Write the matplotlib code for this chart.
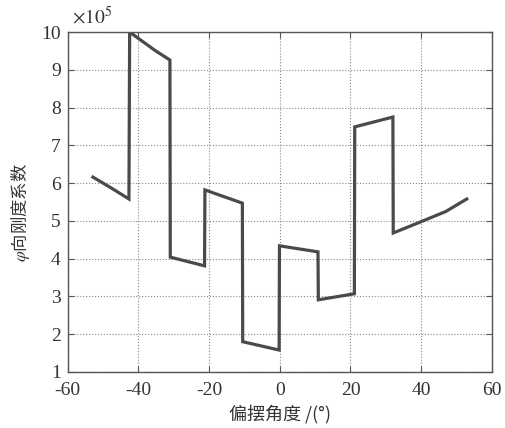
import matplotlib
matplotlib.use('Agg')
import numpy as np
from matplotlib import pyplot as plt

# swing angle (deg) and phi-direction stiffness coefficient (x 10^5)
angle = [-52.9, -47.5, -42.7, -42.5, -35.4, -31.1, -31.0, -21.3, -21.2,
         -10.6, -10.5, -0.2, -0.1, 10.8, 10.9, 21.1, 21.2, 32.0, 32.1,
         40.0, 47.0, 52.9]
stiffness = [6.16, 5.86, 5.58, 10.0, 9.52, 9.26, 4.04, 3.81, 5.82,
             5.47, 1.80, 1.58, 4.34, 4.18, 2.91, 3.07, 7.49, 7.75, 4.68,
             4.98, 5.25, 5.58]

xticks = [-60, -40, -20, 0, 20, 40, 60]
yticks = [1, 2, 3, 4, 5, 6, 7, 8, 9, 10]

plt.rcParams['font.family'] = ['Liberation Serif', 'Noto Sans CJK SC', 'DejaVu Sans']
plt.rcParams['mathtext.fontset'] = 'stix'
plt.rcParams['axes.unicode_minus'] = False
cjk = ['Noto Sans CJK SC', 'Liberation Serif', 'DejaVu Sans']


def main():
    fig = plt.figure(figsize=(5.06, 4.28), dpi=100)
    ax = fig.add_axes([0.134, 0.131, 0.838, 0.794])
    ax.plot(angle, stiffness, color='#4a4a4a', lw=2.3, solid_joinstyle='miter')

    ax.set_xlim(-60, 60)
    ax.set_ylim(1, 10)
    ax.set_xticks(xticks)
    ax.set_yticks(yticks)
    ax.tick_params(direction='in', top=True, right=True, length=4,
                   width=0.8, color='#555555', labelsize=14, labelcolor='#333333')
    ax.tick_params(axis='x', pad=7)
    ax.tick_params(axis='y', pad=5)
    ax.grid(True, ls=':', color='#888888', lw=0.8)
    for s in ax.spines.values():
        s.set_color('#555555')
        s.set_linewidth(1.0)

    ax.text(0.01, 1.012, r'$\times 10^5$', transform=ax.transAxes,
            fontsize=14, color='#333333', va='bottom', ha='left')
    ax.set_xlabel('偏摆角度 /(°)', family=cjk, fontsize=13, color='#333333', labelpad=4)
    ax.set_ylabel(r'$\varphi$向刚度系数', family=cjk, fontsize=12.5, color='#333333')
    ax.yaxis.set_label_coords(-0.085, 0.47)

    fig.savefig('out.png', dpi=100)
    plt.close(fig)


if __name__ == '__main__':
    main()
